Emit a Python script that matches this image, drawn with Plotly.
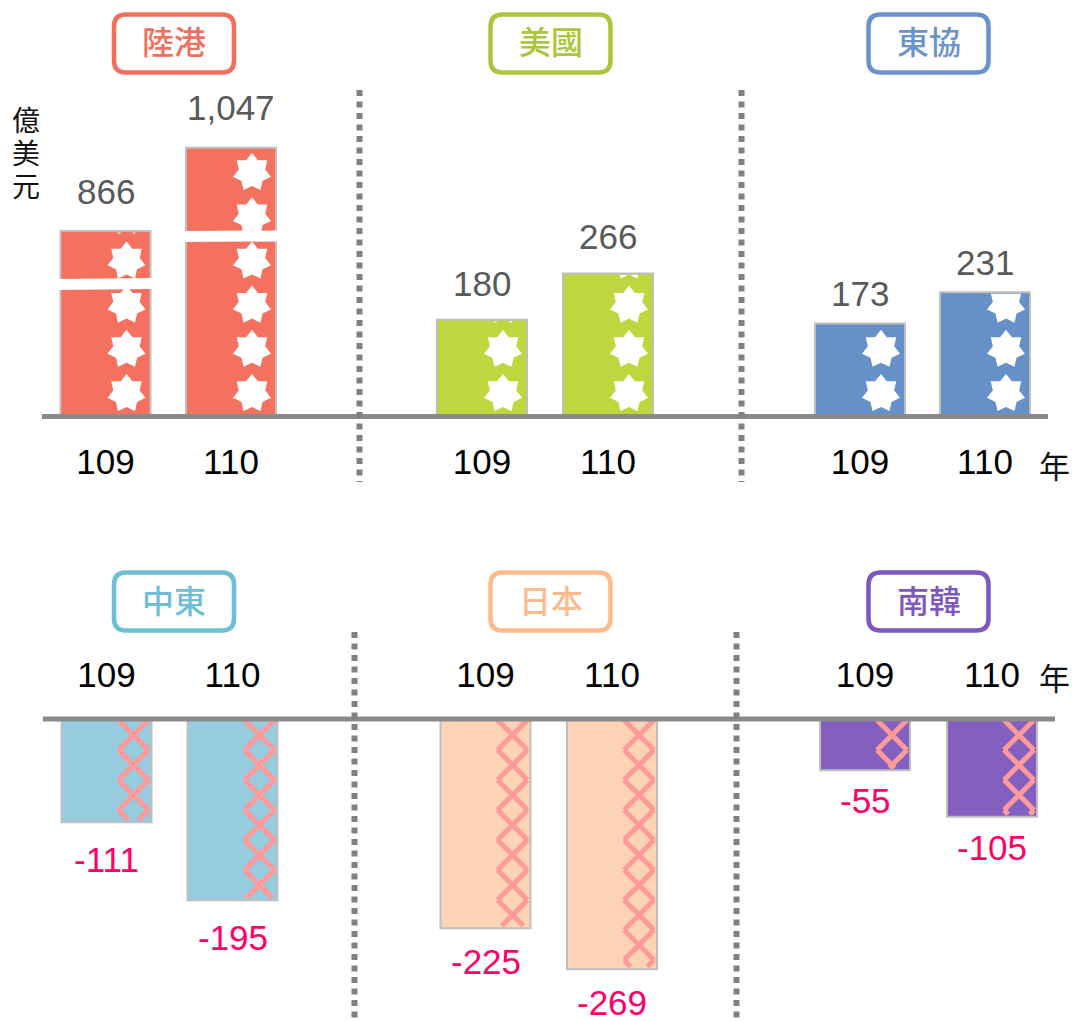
import math
import plotly.graph_objects as go

# ---- data -------------------------------------------------------------
years = ["109", "110"]

mainland_hk = [866, 1047]
usa = [180, 266]
asean = [173, 231]
middle_east = [-111, -195]
japan = [-225, -269]
korea = [-55, -105]

top_regions = ["陸港", "美國", "東協"]
bottom_regions = ["中東", "日本", "南韓"]
unit_chars = ["億", "美", "元"]
year_suffix = "年"

# ---- canvas helpers (margins are zero, so paper maps 1:1 to pixels) ---
W, H = 1074, 1021


def px(x):
    return x / W


def py(y):
    return 1 - y / H


NUM_FONT = "Liberation Sans, Arial, sans-serif"
CJK_FONT = "Noto Sans CJK TC, Noto Sans CJK SC, sans-serif"
AXIS_GREY = "#8A8A8A"
BAR_EDGE = "#BFBFBF"

# row geometry (pixels)
TOP_BASE, TOP_CEIL = 416.5, 88
BOT_BASE = 719
TOP_SCALE = 0.538      # px per 億美元, top row
BOT_SCALE = 0.93       # px per 億美元, bottom row
BAR_PX = 90

panels = [
    dict(name=top_regions[0], values=mainland_hk, row="top", centers=(105.5, 231),
         bar="#F47160", accent="#F26F5E", box_x=174, floor=463, scale=0.460, shift=18.5,
         breaks=[((58, 284.5), (153, 283.5)), ((183, 236.5), (279, 236))]),
    dict(name=top_regions[1], values=usa, row="top", centers=(482, 608),
         bar="#C0D63F", accent="#ABC63A", box_x=550.5, floor=0, scale=TOP_SCALE, shift=15),
    dict(name=top_regions[2], values=asean, row="top", centers=(860, 985),
         bar="#6690C8", accent="#6B93CB", box_x=928.5, floor=0, scale=TOP_SCALE, shift=8),
    dict(name=bottom_regions[0], values=middle_east, row="bottom", centers=(106.5, 232.5),
         bar="#96CCDD", accent="#6EBED5", box_x=174, shift=-15.8),
    dict(name=bottom_regions[1], values=japan, row="bottom", centers=(485.5, 612),
         bar="#FDD3B5", accent="#FDBA8A", box_x=550.5, shift=-12),
    dict(name=bottom_regions[2], values=korea, row="bottom", centers=(865, 992),
         bar="#8360C0", accent="#7F58BF", box_x=928.5, shift=-9),
]

fig = go.Figure()
shapes = []
annotations = []


def star_points(cx, cy, R=19.5, r=13.5, n=7):
    pts = []
    for k in range(2 * n):
        ang = math.pi / 2 + k * math.pi / n
        rad = R if k % 2 == 0 else r
        pts.append((cx + rad * math.cos(ang), cy + rad * math.sin(ang)))
    return pts


def clip_under(poly, ymax):
    """Keep the part of a polygon lying at or below y = ymax (y grows upward)."""
    out = []
    n = len(poly)
    for i in range(n):
        (x0, y0), (x1, y1) = poly[i], poly[(i + 1) % n]
        in0, in1 = y0 <= ymax, y1 <= ymax
        if in0:
            out.append((x0, y0))
        if in0 != in1:
            t = (ymax - y0) / (y1 - y0)
            out.append((x0 + t * (x1 - x0), ymax))
    return out


def poly_path(pts):
    return "M" + "L".join(f"{x:.2f},{y:.2f}" for x, y in pts) + "Z"


def cross_path(cx, depth, limit, h=15):
    """Two diagonal strokes centred `depth` px below the anchor, cut at `limit`."""
    segs = [((cx - h, depth - h), (cx + h, depth + h)),
            ((cx + h, depth - h), (cx - h, depth + h))]
    parts = []
    for (x0, d0), (x1, d1) in segs:
        if d1 > limit:
            t = (limit - d0) / (d1 - d0)
            x1, d1 = x0 + t * (x1 - x0), limit
        parts.append(f"M{x0:.2f},{-d0:.2f}L{x1:.2f},{-d1:.2f}")
    return "".join(parts)


def rounded_box(hw=60, hh=29, r=12):
    return (f"M{-hw + r},{-hh}L{hw - r},{-hh}Q{hw},{-hh} {hw},{-hh + r}"
            f"L{hw},{hh - r}Q{hw},{hh} {hw - r},{hh}"
            f"L{-hw + r},{hh}Q{-hw},{hh} {-hw},{hh - r}"
            f"L{-hw},{-hh + r}Q{-hw},{-hh} {-hw + r},{-hh}Z")


layout_axes = {}
for i, p in enumerate(panels, start=1):
    xa, ya = f"x{i}", f"y{i}"
    c0, c1 = p["centers"]
    step = c1 - c0
    xdom = [px(c0 - step / 2), px(c1 + step / 2)]
    top = p["row"] == "top"

    if top:
        ydom = [py(TOP_BASE), py(TOP_CEIL)]
        yrange = [p["floor"], p["floor"] + (TOP_BASE - TOP_CEIL) / p["scale"]]
    else:
        ydom = [0, py(BOT_BASE)]
        yrange = [-(H - BOT_BASE) / BOT_SCALE, 0]

    fig.add_trace(go.Bar(
        x=[0, 1], y=p["values"], width=BAR_PX / step,
        marker=dict(color=p["bar"], line=dict(color=BAR_EDGE, width=2)),
        xaxis=xa, yaxis=ya, showlegend=False, hoverinfo="skip",
    ))

    layout_axes[f"xaxis{i}"] = dict(
        domain=xdom, anchor=ya, range=[-0.5, 1.5], side="bottom" if top else "top",
        tickvals=[0, 1], ticktext=years, ticks="outside",
        ticklen=14 if top else 17, tickcolor="rgba(0,0,0,0)",
        tickfont=dict(family=NUM_FONT, size=35, color="#000000"),
        showgrid=False, zeroline=False, showline=False, fixedrange=True,
    )
    layout_axes[f"yaxis{i}"] = dict(
        domain=ydom, anchor=xa, range=yrange, visible=False,
        showgrid=False, zeroline=False, fixedrange=True,
    )

    # bar pattern: white stars above the baseline, pink crosses below it
    for j, v in enumerate(p["values"]):
        if top:
            height = (v - p["floor"]) * p["scale"]
            k = 0
            while 23 + 44.2 * k - 19.5 < height - 1.5:
                pts = clip_under(star_points(21, 23 + 44.2 * k), height - 1.5)
                shapes.append(dict(
                    type="path", xref=xa, yref=ya, xsizemode="pixel", ysizemode="pixel",
                    xanchor=j, yanchor=p["floor"], path=poly_path(pts),
                    fillcolor="white", line=dict(width=0), layer="above"))
                k += 1
        else:
            height = -v * BOT_SCALE
            k = 0
            while 16 + 30 * k - 15 < height - 3:
                shapes.append(dict(
                    type="path", xref=xa, yref=ya, xsizemode="pixel", ysizemode="pixel",
                    xanchor=j, yanchor=0,
                    path=cross_path(27, 16 + 30 * k, height - 2.5),
                    line=dict(color="#FF9A9A", width=5), layer="above"))
                k += 1

        annotations.append(dict(
            x=j, y=v, xref=xa, yref=ya, text=f"{v:,}", showarrow=False,
            yanchor="bottom" if top else "top", yshift=p["shift"],
            font=dict(family=NUM_FONT, size=35,
                      color="#595959" if top else "#FF0066"),
        ))

    # broken-axis marks on the truncated bars
    for (x0, y0), (x1, y1) in p.get("breaks", []):
        shapes.append(dict(type="line", xref="paper", yref="paper",
                           x0=px(x0), y0=py(y0), x1=px(x1), y1=py(y1),
                           line=dict(color="white", width=11), layer="above"))

    # region title box
    box_y = 43.5 if top else 601.5
    shapes.append(dict(
        type="path", xref="paper", yref="paper", xsizemode="pixel", ysizemode="pixel",
        xanchor=px(p["box_x"]), yanchor=py(box_y), path=rounded_box(),
        fillcolor="white", line=dict(color=p["accent"], width=4.5), layer="above"))
    annotations.append(dict(
        x=px(p["box_x"]), y=py(box_y - 3), xref="paper", yref="paper",
        text=p["name"], showarrow=False, xanchor="center", yanchor="middle",
        font=dict(family=CJK_FONT, size=32, color=p["accent"], weight=500),
    ))

# baselines
shapes.append(dict(type="line", xref="paper", yref="paper",
                   x0=px(42), x1=px(1048), y0=py(TOP_BASE), y1=py(TOP_BASE),
                   line=dict(color=AXIS_GREY, width=5), layer="above"))
shapes.append(dict(type="line", xref="paper", yref="paper",
                   x0=px(43), x1=px(1055), y0=py(BOT_BASE), y1=py(BOT_BASE),
                   line=dict(color=AXIS_GREY, width=5), layer="above"))

# dotted dividers between regions
for x, y0, y1 in [(359.5, 90, 482), (741.5, 90, 482), (354.5, 632, 1021), (736.5, 632, 1021)]:
    shapes.append(dict(type="line", xref="paper", yref="paper",
                       x0=px(x), x1=px(x), y0=py(y0), y1=py(y1),
                       line=dict(color="#808080", width=6, dash="6px,5.5px"),
                       layer="above"))

# unit label, written vertically
for ch, y in zip(unit_chars, [122, 154.5, 187]):
    annotations.append(dict(x=px(26), y=py(y), xref="paper", yref="paper", text=ch,
                            showarrow=False, xanchor="center", yanchor="middle",
                            font=dict(family=NUM_FONT + ", Noto Sans CJK TC",
                                      size=28, color="#111111")))

# year suffix after the last tick of each row
for y in [464, 676]:
    annotations.append(dict(x=px(1054), y=py(y), xref="paper", yref="paper",
                            text=year_suffix, showarrow=False, xanchor="center",
                            yanchor="middle",
                            font=dict(family=CJK_FONT, size=31, color="#111111")))

fig.update_layout(
    width=W, height=H, margin=dict(l=0, r=0, t=0, b=0),
    paper_bgcolor="white", plot_bgcolor="rgba(0,0,0,0)",
    barmode="overlay", shapes=shapes, annotations=annotations,
    showlegend=False, **layout_axes,
)

fig.write_html("out.html")
